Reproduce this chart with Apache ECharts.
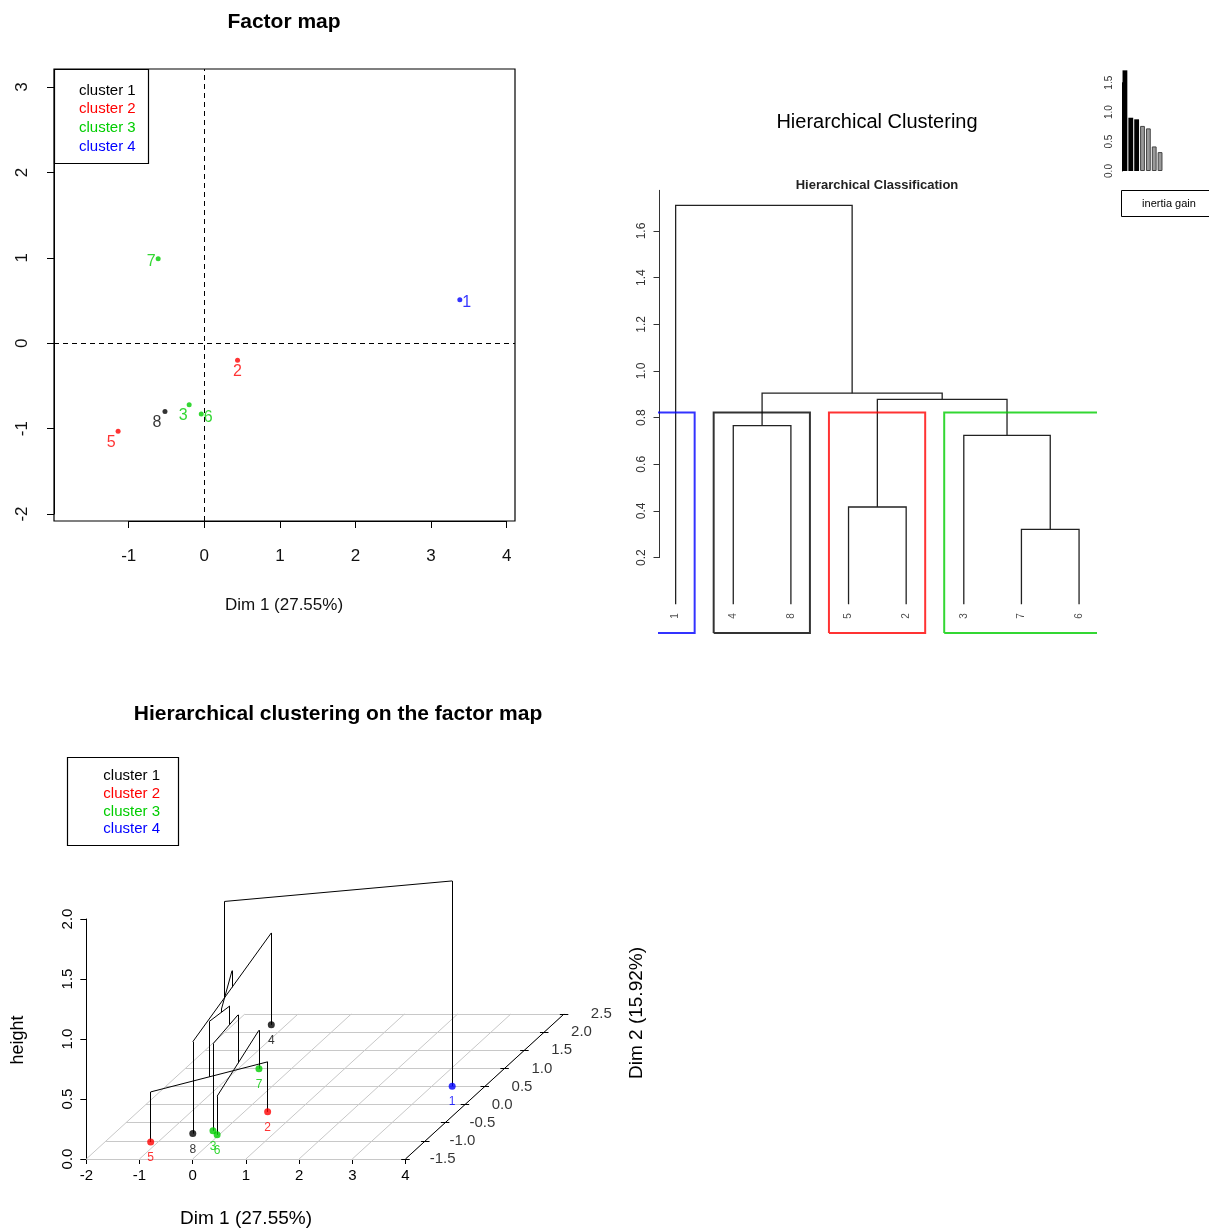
<!DOCTYPE html>
<html>
<head>
<meta charset="utf-8">
<script src="https://cdn.jsdelivr.net/npm/echarts@6/dist/echarts.min.js"></script>
<style>
  html, body { margin: 0; padding: 0; background: #fff; }
  #main { width: 1209px; height: 1229px; }
</style>
</head>
<body>
<div id="main"></div>
<script>
// individuals and their coordinates on the first two dimensions
var pointIds = ['1', '2', '3', '4', '5', '6', '7', '8'];
var dim1 = [3.38, 0.44, -0.20, -1.28, -1.14, -0.04, -0.61, -0.52];
var dim2 = [0.51, -0.20, -0.72, 2.20, -1.03, -0.83, 0.99, -0.80];
var clusterOf = [4, 2, 3, 1, 2, 3, 3, 1];
var clusterNames = ['cluster 1', 'cluster 2', 'cluster 3', 'cluster 4'];
var clusterColors = ['#000000', '#ff0000', '#00cd00', '#0000ff'];

// hclust style merge table (negative = individual, positive = earlier merge)
var mergePairs = [[-7, -6], [-5, -2], [-3, 1], [-4, -8], [2, 3], [4, 5], [-1, 6]];
var mergeHeights = [0.321, 0.417, 0.724, 0.766, 0.878, 0.905, 1.71];
var leafOrder = [1, 4, 8, 5, 2, 3, 7, 6];
var inertiaGain = [1.71, 0.905, 0.878, 0.766, 0.724, 0.417, 0.321];
var nbClust = 4;

// tick values
var factorTicksX = [-1, 4];
var factorTicksY = [-2, 3];
var dendroTicks = [0.2, 1.6];
var dim1Ticks3d = [-2, -1, 0, 1, 2, 3, 4];
var dim2Ticks3d = [-1.5, -1.0, -0.5, 0.0, 0.5, 1.0, 1.5, 2.0, 2.5];

// label offsets on the factor map (style)
var factorLabelOffset = [[7, 3], [0, 11], [-6, 11], [0, 0], [-7, 11], [7, 4], [-7, 3], [-8, 11]];

var ARIAL = "'Liberation Sans', Arial, sans-serif";

// ---------- 3D projection (oblique, like scatterplot3d) ----------
var D2MIN = -1.5, KX = 0.7453, KY = 0.3021;
function proj(d1, d2, h) {
    return [d1 + (d2 - D2MIN) * KX, h + (d2 - D2MIN) * KY];
}

function seg(a, b, color, width) {
    return { coords: [a, b], lineStyle: { color: color || '#000', width: width || 1 } };
}

// ---------- dendrogram geometry ----------
var dnodes = [];
function dRef(ref) {
    if (ref < 0) return { x: leafOrder.indexOf(-ref) + 1, h: 0 };
    return dnodes[ref - 1];
}
var dendroLines = [];
for (var i = 0; i < mergePairs.length; i++) {
    var a = dRef(mergePairs[i][0]), b = dRef(mergePairs[i][1]), h = mergeHeights[i];
    dendroLines.push({ coords: [[a.x, a.h], [a.x, h], [b.x, h], [b.x, b.h]] });
    dnodes.push({ x: (a.x + b.x) / 2, h: h });
}
var cutHeight = (mergeHeights[mergeHeights.length - nbClust] + mergeHeights[mergeHeights.length - nbClust + 1]) / 2;
var DY_MIN = -0.13, RECT_BOTTOM = -0.123;
var rectLines = [];
var start = 0;
for (var i = 1; i <= leafOrder.length; i++) {
    if (i === leafOrder.length || clusterOf[leafOrder[i] - 1] !== clusterOf[leafOrder[start] - 1]) {
        var xl = start + 0.66, xr = i + 0.33;
        rectLines.push({
            coords: [[xl, RECT_BOTTOM], [xl, cutHeight], [xr, cutHeight], [xr, RECT_BOTTOM], [xl, RECT_BOTTOM]],
            lineStyle: { color: clusterColors[clusterOf[leafOrder[start] - 1] - 1], width: 2 }
        });
        start = i;
    }
}
var leafLabels = leafOrder.map(function (id, k) {
    return { name: String(id), value: [k + 1, -0.05] };
});

// ---------- 3D tree ----------
var tnodes = [];
function tRef(ref) {
    if (ref < 0) { var j = -ref - 1; return { x: dim1[j], y: dim2[j], h: 0, m: [j] }; }
    return tnodes[ref - 1];
}
var treeLines = [];
for (var i = 0; i < mergePairs.length; i++) {
    var a = tRef(mergePairs[i][0]), b = tRef(mergePairs[i][1]), h = mergeHeights[i];
    treeLines.push(seg(proj(a.x, a.y, a.h), proj(a.x, a.y, h)));
    treeLines.push(seg(proj(b.x, b.y, b.h), proj(b.x, b.y, h)));
    treeLines.push(seg(proj(a.x, a.y, h), proj(b.x, b.y, h)));
    var m = a.m.concat(b.m), sx = 0, sy = 0;
    m.forEach(function (j) { sx += dim1[j]; sy += dim2[j]; });
    tnodes.push({ x: sx / m.length, y: sy / m.length, h: h, m: m });
}
var d1lo = dim1Ticks3d[0], d1hi = dim1Ticks3d[dim1Ticks3d.length - 1];
var d2lo = dim2Ticks3d[0], d2hi = dim2Ticks3d[dim2Ticks3d.length - 1];
var floorGrid = [];
dim2Ticks3d.forEach(function (v) { floorGrid.push(seg(proj(d1lo, v, 0), proj(d1hi, v, 0), '#c8c8c8')); });
dim1Ticks3d.forEach(function (v) { floorGrid.push(seg(proj(v, d2lo, 0), proj(v, d2hi, 0), '#c8c8c8')); });
var dim2Axis = [seg(proj(d1hi, d2lo, 0), proj(d1hi, d2hi, 0), '#000')];
dim2Ticks3d.forEach(function (v) { dim2Axis.push(seg(proj(d1hi - 0.08, v, 0), proj(d1hi + 0.08, v, 0), '#000')); });
var dim2Labels = dim2Ticks3d.map(function (v) {
    return { name: v.toFixed(1), value: proj(d1hi + 0.7, v, 0) };
});
var points3d = pointIds.map(function (id, j) {
    var c = clusterColors[clusterOf[j] - 1];
    return { name: id, value: proj(dim1[j], dim2[j], 0), itemStyle: { color: c }, label: { color: c } };
});

// ---------- factor map points ----------
var factorPoints = pointIds.map(function (id, j) {
    var c = clusterColors[clusterOf[j] - 1];
    return {
        name: id, value: [dim1[j], dim2[j]], itemStyle: { color: c },
        label: { color: c, offset: factorLabelOffset[j] }
    };
});

var noAxis = { show: false };
function hiddenX(g, min, max) { return { gridIndex: g, type: 'value', min: min, max: max, show: false }; }
function hiddenY(g, min, max) { return { gridIndex: g, type: 'value', min: min, max: max, show: false }; }
var blackLine = { show: true, onZero: false, lineStyle: { color: '#000', width: 1 } };

var chart = echarts.init(document.getElementById('main'));
var option = {
    animation: false,
    backgroundColor: '#fff',
    grid: [
        { left: 54, top: 69, width: 461, height: 452, show: true, borderColor: '#000', borderWidth: 1.2 },
        { left: 128.7, top: 87, width: 378, height: 427 },
        { left: 659.5, top: 189, width: 435.7, height: 445.6 },
        { left: 659.5, top: 231, width: 435.7, height: 326.6 },
        { left: 1122, top: 82.7, width: 41, height: 88.3 },
        { left: 86.3, top: 871, width: 489.4, height: 288 },
        { left: 86.3, top: 919, width: 319.2, height: 240 }
    ],
    xAxis: [
        hiddenX(0, -1.988, 4.11),
        {
            gridIndex: 1, type: 'value', min: factorTicksX[0], max: factorTicksX[1], interval: 1, offset: 7,
            axisLine: blackLine, splitLine: noAxis,
            axisTick: { length: 7, lineStyle: { color: '#000' } },
            axisLabel: { color: '#111', fontSize: 17, fontFamily: ARIAL, margin: 27 }
        },
        hiddenX(2, 0.72, 8.28),
        { gridIndex: 3, type: 'value', min: 0.72, max: 8.28, show: false },
        { gridIndex: 4, type: 'category', data: inertiaGain.map(function (v, k) { return String(k + 1); }), show: false },
        hiddenX(5, -2, 7.2),
        {
            gridIndex: 6, type: 'value', min: -2, max: 4, interval: 1,
            axisLine: blackLine, splitLine: noAxis,
            axisTick: { length: 5, lineStyle: { color: '#000' } },
            axisLabel: { color: '#000', fontSize: 15, fontFamily: ARIAL, margin: 9 }
        }
    ],
    yAxis: [
        hiddenY(0, -2.082, 3.211),
        {
            gridIndex: 1, type: 'value', min: factorTicksY[0], max: factorTicksY[1], interval: 1, offset: 74.7,
            axisLine: blackLine, splitLine: noAxis,
            axisTick: { length: 7, lineStyle: { color: '#000' } },
            axisLabel: { color: '#111', fontSize: 17, fontFamily: ARIAL, rotate: 90, margin: 23 }
        },
        hiddenY(2, DY_MIN, 1.78),
        {
            gridIndex: 3, type: 'value', min: dendroTicks[0], max: dendroTicks[1], interval: 0.2,
            axisLine: { show: true, onZero: false, lineStyle: { color: '#333', width: 1 } }, splitLine: noAxis,
            axisTick: { length: 6, lineStyle: { color: '#333' } },
            axisLabel: { color: '#333', fontSize: 12, fontFamily: ARIAL, rotate: 90, margin: 12,
                formatter: function (v) { return v.toFixed(1); } }
        },
        {
            gridIndex: 4, type: 'value', min: 0, max: 1.5, interval: 0.5,
            axisLine: blackLine, splitLine: noAxis,
            axisTick: { length: 4, lineStyle: { color: '#000' } },
            axisLabel: { color: '#333', fontSize: 10, fontFamily: ARIAL, rotate: 90, margin: 8,
                formatter: function (v) { return v.toFixed(1); } }
        },
        hiddenY(5, 0, 2.4),
        {
            gridIndex: 6, type: 'value', min: 0, max: 2, interval: 0.5,
            axisLine: blackLine, splitLine: noAxis,
            axisTick: { length: 6, lineStyle: { color: '#000' } },
            axisLabel: { color: '#000', fontSize: 15, fontFamily: ARIAL, rotate: 90, margin: 11,
                formatter: function (v) { return v.toFixed(1); } }
        }
    ],
    series: [
        // factor map
        {
            type: 'scatter', xAxisIndex: 0, yAxisIndex: 0, symbolSize: 5, data: factorPoints,
            label: { show: true, position: 'inside', formatter: '{b}', fontSize: 16, fontFamily: ARIAL },
            markLine: {
                symbol: 'none', silent: true, label: { show: false },
                lineStyle: { type: [5, 4], color: '#000', width: 1 },
                data: [{ xAxis: 0 }, { yAxis: 0 }]
            }
        },
        // dendrogram
        {
            type: 'lines', coordinateSystem: 'cartesian2d', xAxisIndex: 2, yAxisIndex: 2, polyline: true,
            lineStyle: { color: '#222', width: 1.3, opacity: 1 }, data: dendroLines
        },
        {
            type: 'lines', coordinateSystem: 'cartesian2d', xAxisIndex: 2, yAxisIndex: 2, polyline: true, clip: true,
            lineStyle: { width: 2, opacity: 0.8 }, data: rectLines
        },
        {
            type: 'lines', coordinateSystem: 'cartesian2d', xAxisIndex: 2, yAxisIndex: 2, clip: false,
            lineStyle: { color: '#333', width: 1, opacity: 1 },
            data: [{ coords: [[0.72, dendroTicks[1]], [0.72, 1.776]] }]
        },
        {
            type: 'scatter', xAxisIndex: 2, yAxisIndex: 2, symbolSize: 0, clip: false, data: leafLabels,
            label: { show: true, position: 'inside', formatter: '{b}', rotate: 90, fontSize: 10, color: '#222', fontFamily: ARIAL }
        },
        // inertia gain
        {
            type: 'bar', xAxisIndex: 4, yAxisIndex: 4, clip: false, barCategoryGap: '18%',
            data: inertiaGain.map(function (v, k) {
                return k < nbClust - 1
                    ? { value: v, itemStyle: { color: '#000' } }
                    : { value: v, itemStyle: { color: '#9a9a9a', borderColor: '#444', borderWidth: 1 } };
            })
        },
        // 3D floor grid, axis, tree
        {
            type: 'lines', coordinateSystem: 'cartesian2d', xAxisIndex: 5, yAxisIndex: 5, clip: false,
            lineStyle: { opacity: 1 }, data: floorGrid
        },
        {
            type: 'lines', coordinateSystem: 'cartesian2d', xAxisIndex: 5, yAxisIndex: 5, clip: false,
            lineStyle: { opacity: 1 }, data: dim2Axis
        },
        {
            type: 'scatter', xAxisIndex: 5, yAxisIndex: 5, symbolSize: 0, clip: false, data: dim2Labels,
            label: { show: true, position: 'inside', formatter: '{b}', fontSize: 15, color: '#000', fontFamily: ARIAL }
        },
        {
            type: 'lines', coordinateSystem: 'cartesian2d', xAxisIndex: 5, yAxisIndex: 5, clip: false,
            lineStyle: { opacity: 1 }, data: treeLines
        },
        {
            type: 'scatter', xAxisIndex: 5, yAxisIndex: 5, symbolSize: 7, clip: false, data: points3d,
            label: { show: true, position: 'inside', offset: [0, 16], formatter: '{b}', fontSize: 12, fontFamily: ARIAL }
        }
    ],
    graphic: [
        // factor map
        { type: 'text', z: 100, style: { text: 'Factor map', x: 284, y: 22, font: 'bold 21px ' + ARIAL, fill: '#000', textAlign: 'center', textVerticalAlign: 'middle' } },
        { type: 'text', z: 100, style: { text: 'Dim 1 (27.55%)', x: 284, y: 605, font: '17px ' + ARIAL, fill: '#111', textAlign: 'center', textVerticalAlign: 'middle' } },
        { type: 'rect', z: 100, shape: { x: 54.5, y: 69.5, width: 94, height: 94 }, style: { fill: '#fff', stroke: '#000', lineWidth: 1.2 } },
        // dendrogram
        { type: 'text', z: 100, style: { text: 'Hierarchical Clustering', x: 877, y: 122, font: '20px ' + ARIAL, fill: '#000', textAlign: 'center', textVerticalAlign: 'middle' } },
        { type: 'text', z: 100, style: { text: 'Hierarchical Classification', x: 877, y: 185, font: 'bold 13px ' + ARIAL, fill: '#222', textAlign: 'center', textVerticalAlign: 'middle' } },
        { type: 'rect', z: 100, shape: { x: 1121.5, y: 190.5, width: 100, height: 26 }, style: { fill: '#fff', stroke: '#000', lineWidth: 1 } },
        { type: 'text', z: 101, style: { text: 'inertia gain', x: 1169, y: 204, font: '11px ' + ARIAL, fill: '#000', textAlign: 'center', textVerticalAlign: 'middle' } },
        // 3D map
        { type: 'text', z: 100, style: { text: 'Hierarchical clustering on the factor map', x: 338, y: 714, font: 'bold 21px ' + ARIAL, fill: '#000', textAlign: 'center', textVerticalAlign: 'middle' } },
        { type: 'rect', z: 100, shape: { x: 67.5, y: 757.5, width: 111, height: 88 }, style: { fill: '#fff', stroke: '#000', lineWidth: 1.2 } },
        { type: 'text', z: 100, x: 18, y: 1040, rotation: Math.PI / 2, style: { text: 'height', x: 0, y: 0, font: '18px ' + ARIAL, fill: '#000', textAlign: 'center', textVerticalAlign: 'middle' } },
        { type: 'text', z: 100, style: { text: 'Dim 1 (27.55%)', x: 246, y: 1219, font: '19px ' + ARIAL, fill: '#000', textAlign: 'center', textVerticalAlign: 'middle' } },
        { type: 'text', z: 100, x: 637, y: 1013, rotation: Math.PI / 2, style: { text: 'Dim 2 (15.92%)', x: 0, y: 0, font: '19px ' + ARIAL, fill: '#000', textAlign: 'center', textVerticalAlign: 'middle' } }
    ].concat(clusterNames.map(function (n, k) {
        return { type: 'text', z: 101, style: { text: n, x: 79, y: 90.5 + k * 18.7, font: '15px ' + ARIAL, fill: clusterColors[k], textAlign: 'left', textVerticalAlign: 'middle' } };
    })).concat(clusterNames.map(function (n, k) {
        return { type: 'text', z: 101, style: { text: n, x: 160, y: 776 + k * 17.7, font: '15px ' + ARIAL, fill: clusterColors[k], textAlign: 'right', textVerticalAlign: 'middle' } };
    }))
};
chart.setOption(option);
</script>
</body>
</html>
